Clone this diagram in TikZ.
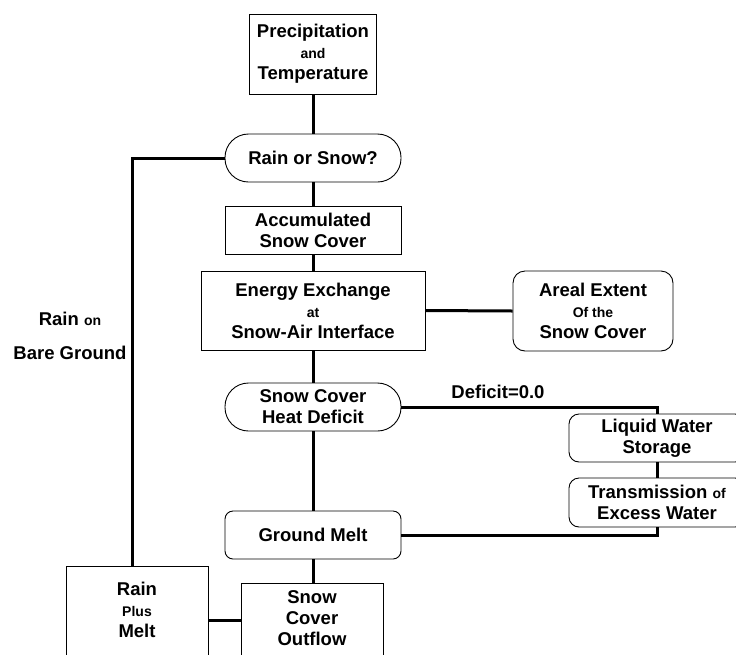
\documentclass[tikz,border=0pt]{standalone}
\usepackage{fontspec}
\setmainfont{Liberation Sans}
\newcommand{\smtxt}[1]{{\fontsize{14}{21}\selectfont #1}}
\begin{document}
\begin{tikzpicture}[x=1pt,y=-1pt,
  txt/.style={align=center, font=\fontsize{18.5}{21}\selectfont\bfseries, inner sep=0pt},
  box/.style={txt, draw, line width=0.9pt},
  rnd/.style={box, rounded corners=10pt},
  stad/.style={box, rounded corners=23.5pt},
  conn/.style={line width=3pt}]
\useasboundingbox (0,0) rectangle (736,654);
% nodes
\node[box, minimum width=127pt, minimum height=80pt] (prec) at (313,54) {Precipitation\\\smtxt{and}\\Temperature};
\node[stad, minimum width=176pt, minimum height=48pt] (ros) at (313,158) {Rain or Snow?};
\node[box, minimum width=176pt, minimum height=48pt] (acc) at (313,230) {Accumulated\\Snow Cover};
\node[box, minimum width=224pt, minimum height=79pt] (ene) at (313,310.5) {Energy Exchange\\\smtxt{at}\\Snow-Air Interface};
\node[rnd, rounded corners=12pt, minimum width=160pt, minimum height=80pt] (areal) at (593,311) {Areal Extent\\\smtxt{Of the}\\Snow Cover};
\node[stad, minimum width=176pt, minimum height=48pt] (heat) at (313,407) {Snow Cover\\Heat Deficit};
\node[rnd, minimum width=176pt, minimum height=48pt] (liq) at (657,438) {Liquid Water\\Storage};
\node[rnd, minimum width=176pt, minimum height=49pt] (trans) at (657,502.5) {Transmission \smtxt{of}\\Excess Water};
\node[rnd, rounded corners=8pt, minimum width=176pt, minimum height=48pt] (gm) at (313,535) {Ground Melt};
\node[box, anchor=north, minimum width=142pt, minimum height=110pt] (rpm) at (137,566) {};
\node[txt] (rpmt) at (137,610) {Rain\\\smtxt{Plus}\\Melt};
\node[box, anchor=north, minimum width=142pt, minimum height=100pt] (sco) at (312,583) {};
\node[txt] (scot) at (312,618) {Snow\\Cover\\Outflow};
\node[txt] (bare) at (70,336) {Rain \smtxt{on}\\[13pt]Bare Ground};
\node[txt, anchor=south] (def) at (498,399) {Deficit=0.0};
% connectors
\coordinate (lc) at (132,158);
\coordinate (jn) at (0,620);
\draw[conn] (prec.south) -- (ros.north);
\draw[conn] (ros.west) -- (lc) -- (lc |- rpm.north);
\draw[conn] (ros.south) -- (acc.north);
\draw[conn] (acc.south) -- (ene.north);
\draw[conn] (ene.east) -- (areal.west);
\draw[conn] (ene.south) -- (heat.north);
\draw[conn] (heat.south) -- (gm.north);
\draw[conn] (gm.south) -- (gm.south |- sco.north);
\draw[conn] (heat.east) -| (liq.north);
\draw[conn] (liq.south) -- (trans.north);
\draw[conn] (trans.south) |- (gm.east);
\draw[conn] (rpm.east |- jn) -- (sco.west |- jn);
\end{tikzpicture}
\end{document}
